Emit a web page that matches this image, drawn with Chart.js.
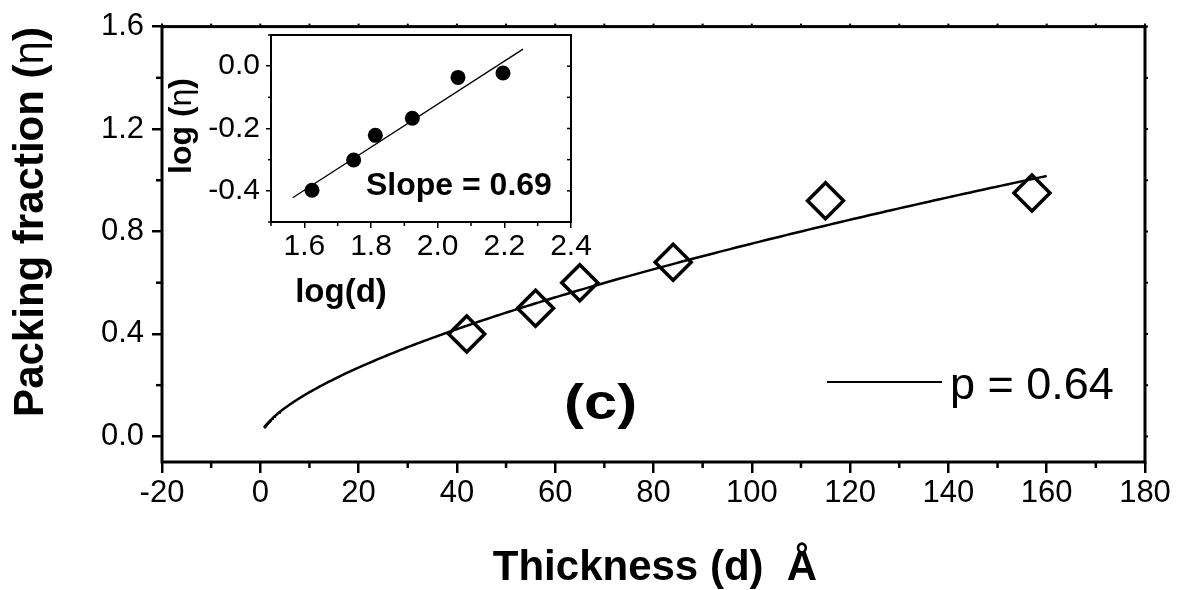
<!DOCTYPE html>
<html>
<head>
<meta charset="utf-8">
<title>Packing fraction vs thickness</title>
<script src="https://cdn.jsdelivr.net/npm/chart.js@4.4.1/dist/chart.umd.min.js"></script>
<style>
  html, body { margin: 0; padding: 0; background: #fff; }
  #wrap { position: relative; width: 1178px; height: 590px; overflow: hidden; }
  #main { position: absolute; left: 0; top: 0; }
  #inset { position: absolute; left: 150px; top: 0; }
</style>
</head>
<body>
<div id="wrap">
  <canvas id="main" width="1178" height="590"></canvas>
  <canvas id="inset" width="460" height="320"></canvas>
</div>
<script>
// ---- main panel: packing fraction vs film thickness ----
const thickness = [42, 56, 65, 84, 115, 157];
const packing = [0.40, 0.50, 0.60, 0.68, 0.92, 0.95];

const xTicks = [-20, 0, 20, 40, 60, 80, 100, 120, 140, 160, 180];
const xMinorTicks = [-10, 10, 30, 50, 70, 90, 110, 130, 150, 170];
const yTicks = [0.0, 0.4, 0.8, 1.2, 1.6];
const yMinorTicks = [0.2, 0.6, 1.0, 1.4];

// power-law fit  eta = A * d^p
const fitExponent = 0.64;
const fitPrefactor = 0.0395;
const fitRange = [0.8, 160];

// ---- inset: log-log plot ----
const logD = [1.623, 1.748, 1.813, 1.924, 2.061, 2.196];
const logEta = [-0.398, -0.301, -0.222, -0.167, -0.036, -0.022];

const insetXTicks = [1.6, 1.8, 2.0, 2.2, 2.4];
const insetXMinorTicks = [1.5, 1.7, 1.9, 2.1, 2.3];
const insetYTicks = [-0.4, -0.2, 0.0];
const insetYMinorTicks = [-0.5, -0.3, -0.1, 0.1];

// straight-line fit in the log-log plot
const insetSlope = 0.69;
const insetIntercept = -1.502;
const insetFitRange = [1.565, 2.256];

const FONT = '"Liberation Sans", Arial, Helvetica, sans-serif';
Chart.defaults.font.family = FONT;
Chart.defaults.color = '#000';

// sampled points of the power-law curve (denser near d = 0 where it bends)
const fitCurve = [];
for (let i = 0; i <= 240; i++) {
  const t = i / 240;
  const d = fitRange[0] + (fitRange[1] - fitRange[0]) * t * t;
  fitCurve.push({ x: d, y: fitPrefactor * Math.pow(d, fitExponent) });
}

// draws mixed-weight text (e.g. bold words with a regular Greek letter)
function drawRich(ctx, parts, x, y, align) {
  let total = 0;
  parts.forEach(p => { ctx.font = p.font; p.w = ctx.measureText(p.text).width; total += p.w; });
  let cx = align === 'center' ? x - total / 2 : x;
  ctx.textAlign = 'left';
  ctx.textBaseline = 'alphabetic';
  parts.forEach(p => { ctx.font = p.font; ctx.fillText(p.text, cx, y); cx += p.w; });
}

function tickLine(ctx, x1, y1, x2, y2) {
  ctx.beginPath();
  ctx.moveTo(x1, y1);
  ctx.lineTo(x2, y2);
  ctx.stroke();
}

const mainDecor = {
  id: 'mainDecor',
  afterDraw(chart) {
    const { ctx, chartArea: a, scales: { x, y } } = chart;
    ctx.save();
    ctx.strokeStyle = '#000';
    ctx.fillStyle = '#000';

    // frame
    ctx.lineWidth = 3;
    ctx.strokeRect(a.left, a.top, a.right - a.left, a.bottom - a.top);

    // minor ticks on the bottom and left axes
    ctx.lineWidth = 2.5;
    xMinorTicks.forEach(v => { const px = x.getPixelForValue(v); tickLine(ctx, px, a.bottom, px, a.bottom + 6); });
    yMinorTicks.forEach(v => { const py = y.getPixelForValue(v); tickLine(ctx, a.left, py, a.left - 6, py); });

    // short ticks on the top and right axes
    ctx.lineWidth = 2;
    xTicks.concat(xMinorTicks).forEach(v => { const px = x.getPixelForValue(v); tickLine(ctx, px, a.top, px, a.top - 3); });
    yTicks.concat(yMinorTicks).forEach(v => { const py = y.getPixelForValue(v); tickLine(ctx, a.right, py, a.right + 3, py); });

    // legend entry for the fit curve
    ctx.lineWidth = 2;
    tickLine(ctx, 827, 382, 942, 382);
    ctx.font = '45px ' + FONT;
    ctx.textAlign = 'left';
    ctx.textBaseline = 'alphabetic';
    ctx.fillText('p = 0.64', 950, 399);

    // panel label
    ctx.save();
    ctx.translate(564, 419);
    ctx.scale(1.15, 0.95);
    ctx.font = 'bold 52px ' + FONT;
    ctx.fillText('(c)', 0, 0);
    ctx.restore();

    // axis titles
    drawRich(ctx, [{ text: 'Thickness (d)  \u00C5', font: 'bold 42px ' + FONT }], 655, 580, 'center');

    ctx.save();
    ctx.translate(43, 222);
    ctx.rotate(-Math.PI / 2);
    drawRich(ctx, [
      { text: 'Packing fraction (', font: 'bold 42px ' + FONT },
      { text: '\u03B7', font: '42px ' + FONT },
      { text: ')', font: 'bold 42px ' + FONT }
    ], 0, 0, 'center');
    ctx.restore();

    ctx.restore();
  }
};

new Chart(document.getElementById('main'), {
  type: 'scatter',
  data: {
    datasets: [
      {
        label: 'measured',
        data: thickness.map((d, i) => ({ x: d, y: packing[i] })),
        showLine: false,
        pointStyle: 'rectRot',
        pointRadius: 18,
        pointBorderWidth: 3.5,
        borderColor: '#000',
        backgroundColor: 'rgba(0,0,0,0)'
      },
      {
        label: 'p = 0.64',
        data: fitCurve,
        showLine: true,
        borderColor: '#000',
        borderWidth: 2.5,
        pointRadius: 0,
        fill: false,
        tension: 0
      }
    ]
  },
  options: {
    responsive: false,
    animation: false,
    devicePixelRatio: 1,
    layout: { padding: { top: 26, right: 33, left: 0, bottom: 0 } },
    plugins: { legend: { display: false }, tooltip: { enabled: false } },
    scales: {
      x: {
        type: 'linear', min: -20, max: 180,
        afterBuildTicks: s => { s.ticks = xTicks.map(v => ({ value: v })); },
        afterFit: s => { s.height = 128; },
        ticks: { font: { size: 31 }, color: '#000', padding: 2, maxRotation: 0, autoSkip: false, callback: v => String(v) },
        grid: { display: true, drawOnChartArea: false, drawTicks: true, tickLength: 11, color: '#000', lineWidth: 2.5 },
        border: { display: false }
      },
      y: {
        type: 'linear', min: -0.1, max: 1.6,
        afterBuildTicks: s => { s.ticks = yTicks.map(v => ({ value: v })); },
        afterFit: s => { s.width = 162; },
        ticks: { font: { size: 31 }, color: '#000', padding: 8, autoSkip: false, callback: v => v.toFixed(1) },
        grid: { display: true, drawOnChartArea: false, drawTicks: true, tickLength: 10, color: '#000', lineWidth: 2.5 },
        border: { display: false }
      }
    }
  },
  plugins: [mainDecor]
});

const insetDecor = {
  id: 'insetDecor',
  afterDraw(chart) {
    const { ctx, chartArea: a, scales: { x, y } } = chart;
    ctx.save();
    ctx.strokeStyle = '#000';
    ctx.fillStyle = '#000';

    ctx.lineWidth = 2;
    ctx.strokeRect(a.left, a.top, a.right - a.left, a.bottom - a.top);

    ctx.lineWidth = 1.5;
    insetXMinorTicks.forEach(v => { const px = x.getPixelForValue(v); tickLine(ctx, px, a.bottom, px, a.bottom + 4); });
    insetYMinorTicks.forEach(v => { const py = y.getPixelForValue(v); tickLine(ctx, a.left, py, a.left - 3, py); });
    insetYTicks.concat(insetYMinorTicks).forEach(v => { const py = y.getPixelForValue(v); tickLine(ctx, a.right, py, a.right - 4, py); });

    drawRich(ctx, [{ text: 'Slope = 0.69', font: 'bold 32px ' + FONT }], 216, 195, 'left');
    drawRich(ctx, [{ text: 'log(d)', font: 'bold 33px ' + FONT }], 191, 302, 'center');

    ctx.save();
    ctx.translate(41, 126);
    ctx.rotate(-Math.PI / 2);
    drawRich(ctx, [
      { text: 'log (', font: 'bold 32px ' + FONT },
      { text: '\u03B7', font: '32px ' + FONT },
      { text: ')', font: 'bold 32px ' + FONT }
    ], 0, 0, 'center');
    ctx.restore();

    ctx.restore();
  }
};

new Chart(document.getElementById('inset'), {
  type: 'scatter',
  data: {
    datasets: [
      {
        label: 'log data',
        data: logD.map((v, i) => ({ x: v, y: logEta[i] })),
        showLine: false,
        pointStyle: 'circle',
        pointRadius: 7.5,
        pointBorderWidth: 0,
        backgroundColor: '#000',
        borderColor: '#000'
      },
      {
        label: 'slope fit',
        data: insetFitRange.map(v => ({ x: v, y: insetIntercept + insetSlope * v })),
        showLine: true,
        borderColor: '#000',
        borderWidth: 1.3,
        pointRadius: 0,
        fill: false
      }
    ]
  },
  options: {
    responsive: false,
    animation: false,
    devicePixelRatio: 1,
    layout: { padding: { top: 35, right: 39, left: 0, bottom: 0 } },
    plugins: { legend: { display: false }, tooltip: { enabled: false } },
    scales: {
      x: {
        type: 'linear', min: 1.5, max: 2.4,
        afterBuildTicks: s => { s.ticks = insetXTicks.map(v => ({ value: v })); },
        afterFit: s => { s.height = 98; },
        ticks: { font: { size: 30 }, color: '#000', padding: 1, maxRotation: 0, autoSkip: false, callback: v => v.toFixed(1) },
        grid: { display: true, drawOnChartArea: false, drawTicks: true, tickLength: 6, color: '#000', lineWidth: 1.5 },
        border: { display: false }
      },
      y: {
        type: 'linear', min: -0.5, max: 0.1,
        afterBuildTicks: s => { s.ticks = insetYTicks.map(v => ({ value: v })); },
        afterFit: s => { s.width = 121; },
        ticks: { font: { size: 30 }, color: '#000', padding: 6, autoSkip: false, callback: v => v.toFixed(1) },
        grid: { display: true, drawOnChartArea: false, drawTicks: true, tickLength: 5, color: '#000', lineWidth: 1.5 },
        border: { display: false }
      }
    }
  },
  plugins: [insetDecor]
});
</script>
</body>
</html>
